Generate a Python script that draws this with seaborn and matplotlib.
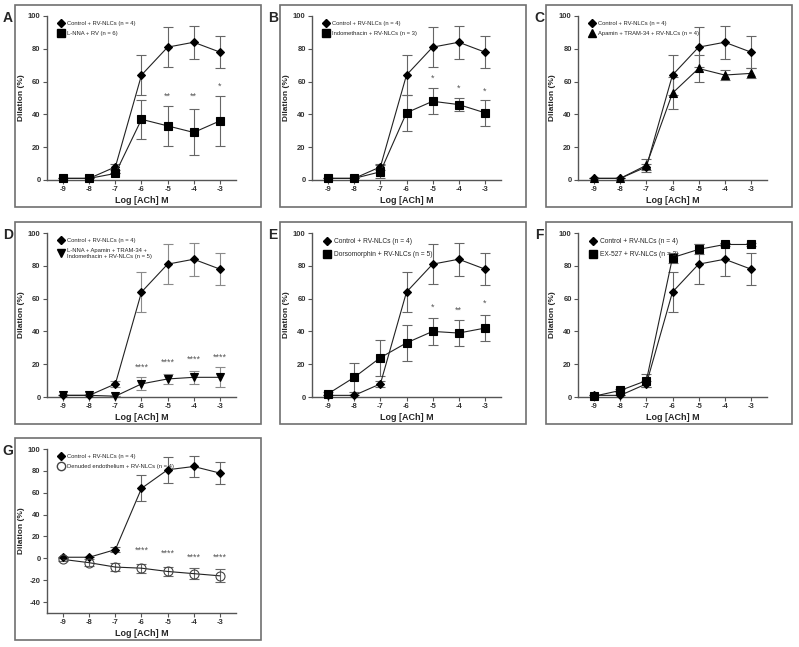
import matplotlib
matplotlib.use("Agg")
import matplotlib.pyplot as plt
from matplotlib.patches import Rectangle
from matplotlib.lines import Line2D
import seaborn as sns

# Data
log_ach = [-9, -8, -7, -6, -5, -4, -3]

control = [1, 1, 8, 64, 81, 84, 78]
control_sem = [0, 0, 2, 12, 12, 10, 10]

lnna = [1, 1, 4, 37, 33, 29, 36]
lnna_sem = [0, 0, 0, 12, 12, 14, 15]

indo = [1, 1, 5, 41, 48, 46, 41]
indo_sem = [0, 0, 4, 11, 8, 4, 8]

apamin_tram = [1, 1, 9, 53, 68, 64, 65]
apamin_tram_sem = [0, 0, 4, 10, 8, 3, 3]

combo = [1, 1, 0.5, 8, 11, 12, 12]
combo_sem = [0, 0, 0, 4, 3, 4, 6]

dorso = [2, 12, 24, 33, 40, 39, 42]
dorso_sem = [1, 9, 11, 11, 8, 8, 8]

ex527 = [0.5, 4, 10, 85, 90, 93, 93]
ex527_sem = [0.5, 1, 4, 3, 3, 1, 1]

denuded = [-1, -4, -8, -9, -12, -14, -16]
denuded_sem = [1, 3, 4, 4, 4, 5, 6]

# significance marks
a_star_x = [-5, -4, -3]
a_star_y = [51, 51, 57]
a_star_txt = ["**", "**", "*"]
b_star_x = [-5, -4, -3]
b_star_y = [62, 56, 54]
b_star_txt = ["*", "*", "*"]
d_star_x = [-6, -5, -4, -3]
d_star_y = [18, 21, 23, 24]
d_star_txt = ["****"] * 4
e_star_x = [-5, -4, -3]
e_star_y = [55, 53, 57]
e_star_txt = ["*", "**", "*"]
g_star_x = [-6, -5, -4, -3]
g_star_y = [7, 5, 1, 1]
g_star_txt = ["****"] * 4

control_label = "Control + RV-NLCs (n = 4)"

sns.set_theme(style="ticks")
plt.rcParams["font.family"] = ["Liberation Sans", "DejaVu Sans"]
plt.rcParams["axes.unicode_minus"] = False

W, H = 799, 647
fig = plt.figure(figsize=(W / 100, H / 100), dpi=100)

box_left = [15, 280, 546]
box_top = [5, 222, 438]
box_w, box_h = 246, 202


def make_panel(col, row, letter):
    bl, bt = box_left[col], box_top[row]
    rect = Rectangle((bl / W, 1 - (bt + box_h) / H), box_w / W, box_h / H,
                     transform=fig.transFigure, fill=False, ec="#707070", lw=1.2)
    fig.patches.append(rect)
    fig.text((bl - 7) / W, 1 - (bt + 13) / H, letter, fontsize=10,
             fontweight="bold", ha="center", va="center")
    ax = fig.add_axes([(bl + 32) / W, 1 - (bt + 175) / H, 189 / W, 164 / H])
    return ax


def draw_series(ax, y, sem, marker, ms, filled=True, ecolor="#666666"):
    ax.errorbar(log_ach, y, yerr=sem, fmt="none", ecolor=ecolor,
                elinewidth=0.8, capsize=3.5, capthick=0.8, zorder=2,
                clip_on=False)
    sns.lineplot(x=log_ach, y=y, ax=ax, color="#222222", linewidth=0.8,
                 marker=marker, markersize=ms,
                 markerfacecolor="black" if filled else "none",
                 markeredgecolor="black" if filled else "#444444",
                 markeredgewidth=0.8, clip_on=False, zorder=3)


def finish(ax, labels, handles, ylim=(0, 100), yticks=range(0, 101, 20),
           legend_fs=4.2, stars=None):
    ax.set_xlim(-9.62, -2.38)
    ax.set_ylim(*ylim)
    ax.set_xticks(log_ach)
    ax.set_xticklabels([str(v) for v in log_ach])
    ax.set_yticks(list(yticks))
    for s in ["top", "right"]:
        ax.spines[s].set_visible(False)
    for s in ["left", "bottom"]:
        ax.spines[s].set_color("#555555")
        ax.spines[s].set_linewidth(1)
    ax.tick_params(direction="out", length=3, width=0.8, color="#555555",
                   labelsize=5.5, labelcolor="#333333", pad=1.5)
    for t in ax.get_xticklabels() + ax.get_yticklabels():
        t.set_fontweight("bold")
    ax.set_xlabel("Log [ACh] M", fontsize=6.5, fontweight="bold", labelpad=2)
    ax.set_ylabel("Dilation (%)", fontsize=6, fontweight="bold", labelpad=2)
    ax.legend(handles, labels, loc="upper left", bbox_to_anchor=(0.04, 0.99),
              frameon=False, fontsize=legend_fs, handlelength=1.2,
              handletextpad=0.5, labelspacing=0.9, borderpad=0)
    if stars is not None:
        for x, y, t in zip(*stars):
            ax.text(x, y, t, fontsize=6.5, color="#555555", ha="center",
                    va="center")


def h(marker, ms, filled=True):
    return Line2D([], [], marker=marker, linestyle="none", markersize=ms,
                  markerfacecolor="black" if filled else "none",
                  markeredgecolor="black" if filled else "#444444")


dm = 4.5
sq = 6
ctrl_h = h("D", dm)

# A
ax = make_panel(0, 0, "A")
draw_series(ax, control, control_sem, "D", dm)
draw_series(ax, lnna, lnna_sem, "s", sq)
finish(ax, [control_label, "L-NNA + RV (n = 6)"], [ctrl_h, h("s", sq)],
       stars=(a_star_x, a_star_y, a_star_txt))

# B
ax = make_panel(1, 0, "B")
draw_series(ax, control, control_sem, "D", dm)
draw_series(ax, indo, indo_sem, "s", sq)
finish(ax, [control_label, "Indomethacin + RV-NLCs (n = 3)"], [ctrl_h, h("s", sq)],
       stars=(b_star_x, b_star_y, b_star_txt))

# C
ax = make_panel(2, 0, "C")
draw_series(ax, control, control_sem, "D", dm)
draw_series(ax, apamin_tram, apamin_tram_sem, "^", 5.5)
finish(ax, [control_label, "Apamin + TRAM-34 + RV-NLCs (n = 4)"], [ctrl_h, h("^", 5.5)])

# D
ax = make_panel(0, 1, "D")
draw_series(ax, control, control_sem, "D", dm, ecolor="#8a8a8a")
draw_series(ax, combo, combo_sem, "v", 5.5, ecolor="#8a8a8a")
finish(ax, [control_label, "L-NNA + Apamin + TRAM-34 +\nIndomethacin + RV-NLCs (n = 5)"],
       [ctrl_h, h("v", 5.5)], stars=(d_star_x, d_star_y, d_star_txt))

# E
ax = make_panel(1, 1, "E")
draw_series(ax, control, control_sem, "D", dm)
draw_series(ax, dorso, dorso_sem, "s", sq)
finish(ax, [control_label, "Dorsomorphin + RV-NLCs (n = 5)"], [ctrl_h, h("s", sq)],
       legend_fs=4.8, stars=(e_star_x, e_star_y, e_star_txt))

# F
ax = make_panel(2, 1, "F")
draw_series(ax, control, control_sem, "D", dm)
draw_series(ax, ex527, ex527_sem, "s", sq)
finish(ax, [control_label, "EX-527 + RV-NLCs (n = 3)"], [ctrl_h, h("s", sq)],
       legend_fs=4.8)

# G
ax = make_panel(0, 2, "G")
draw_series(ax, control, control_sem, "D", dm)
draw_series(ax, denuded, denuded_sem, "o", 6.5, filled=False)
finish(ax, [control_label, "Denuded endothelium + RV-NLCs (n = 4)"],
       [ctrl_h, h("o", 6, filled=False)], ylim=(-50, 100),
       yticks=range(-40, 101, 20), stars=(g_star_x, g_star_y, g_star_txt))

fig.savefig("out.png", dpi=100)
